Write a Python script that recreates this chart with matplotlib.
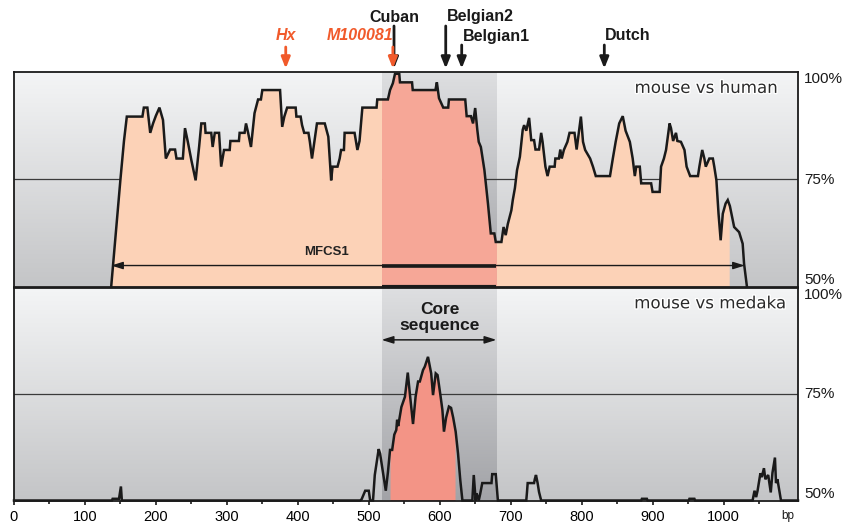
import numpy as np
import matplotlib
matplotlib.use("Agg")
import matplotlib.pyplot as plt
import matplotlib.transforms as mtransforms
import matplotlib.patheffects as pe

# ---- data ----
# mouse vs human conservation (bp, % identity)
human_bp = [137, 150, 155, 159, 181, 183, 188, 192, 196, 200, 205, 210, 214, 220, 227, 229,
            238, 241, 245, 250, 256, 261, 264, 269, 270, 278, 280, 283, 289, 292, 296, 304,
            305, 317, 318, 325, 327, 330, 334, 339, 344, 348, 350, 375, 378, 381, 385, 397,
            398, 404, 406, 409, 415, 417, 420, 427, 438, 443, 447, 449, 456, 459, 461, 465,
            466, 480, 484, 487, 491, 511, 512, 527, 530, 534, 537, 543, 544, 561, 562, 594,
            596, 599, 605, 612, 613, 636, 638, 644, 647, 650, 653, 655, 658, 663, 668, 672,
            677, 679, 687, 690, 693, 696, 701, 703, 706, 709, 713, 717, 719, 722, 726, 729,
            733, 735, 740, 743, 745, 749, 752, 755, 762, 763, 768, 770, 772, 775, 780, 783,
            790, 793, 799, 802, 805, 812, 816, 820, 840, 844, 848, 853, 858, 862, 868, 872,
            875, 877, 882, 884, 898, 900, 910, 912, 916, 919, 924, 926, 929, 933, 935, 940,
            945, 948, 953, 964, 966, 970, 973, 975, 980, 985, 987, 990, 993, 996, 999, 1003,
            1006, 1009, 1015, 1022, 1027, 1029, 1033]
human_pct = [50, 75, 84, 89.7, 89.7, 91.8, 91.8, 85.9, 88.1, 89.9, 91.8, 88.9, 79.9, 82.0, 82.0, 79.9,
             79.9, 87.0, 83.8, 79.5, 74.8, 82.8, 88.1, 88.1, 85.9, 85.9, 82.6, 85.9, 85.9, 78.0, 81.9, 81.9,
             84.0, 84.0, 85.9, 85.9, 88.1, 85.9, 82.6, 90.5, 93.7, 93.7, 95.9, 95.9, 87.3, 89.7, 91.8, 91.8,
             89.7, 89.7, 87.7, 85.9, 85.9, 83.8, 79.9, 88.1, 88.1, 85.0, 74.8, 78.0, 78.0, 79.9, 81.9, 81.9,
             85.9, 85.9, 81.9, 84.0, 91.8, 91.8, 93.7, 93.7, 95.9, 97.5, 99.7, 99.7, 97.7, 97.7, 95.9, 95.9,
             97.7, 94.0, 91.8, 91.8, 93.7, 93.7, 89.8, 89.8, 88.1, 91.7, 86.6, 83.8, 82.6, 77.2, 69.4, 62.4,
             62.4, 60.4, 60.4, 63.9, 62.0, 64.6, 67.8, 70.2, 73.0, 77.2, 80.3, 86.6, 87.7, 86.4, 89.4, 84.2,
             84.2, 82.0, 82.0, 85.9, 83.8, 78.0, 75.8, 78.0, 78.0, 79.9, 79.9, 82.0, 79.9, 81.9, 83.8, 85.9,
             85.9, 82.0, 89.7, 83.8, 81.9, 79.9, 78.0, 75.8, 75.8, 79.9, 83.8, 88.1, 89.8, 86.4, 83.8, 79.9,
             75.8, 78.0, 78.0, 74.1, 74.1, 72.1, 72.1, 78.0, 79.9, 81.9, 88.1, 87.0, 84.0, 85.9, 84.0, 83.8,
             81.9, 78.0, 75.8, 75.8, 78.0, 81.9, 79.9, 78.0, 79.9, 79.9, 78.0, 74.8, 67.0, 60.8, 67.0, 69.4,
             70.2, 68.8, 63.9, 62.7, 60.0, 55.3, 50]

# mouse vs medaka conservation
medaka_bp = [0, 138, 139, 148, 150.7, 152, 488, 490, 495, 500, 502, 506, 508.5, 514, 516, 524,
             527, 530, 533, 536, 538.8, 540, 541.5, 543, 546, 551, 555, 558, 562.4, 566, 569.5, 572,
             576.5, 579, 583.5, 588, 590.6, 594.4, 597, 601, 603.8, 606, 609, 613, 616, 619, 622.5, 625.8,
             629, 632, 646, 648, 650.7, 652, 655, 657, 660, 673, 674, 679, 682, 722, 723, 724,
             733, 734, 735.7, 738, 740, 743, 884, 885, 892, 893, 951, 952, 959, 960,
             1041, 1043.7, 1046, 1048, 1052, 1054, 1057, 1059, 1063, 1066.6, 1069, 1072.5, 1074, 1076, 1081, 1105]
medaka_pct = [50, 50, 50.4, 50.4, 53.3, 50, 50, 50.3, 52.3, 52.3, 50, 50, 56.0, 62.1, 61.0, 52.3,
              56.6, 61.9, 61.9, 65.5, 66.6, 69.0, 67.5, 69.0, 72.0, 74.4, 80.1, 75.0, 68.0, 74.4, 78.0, 78.0,
              80.7, 81.5, 83.8, 79.9, 74.8, 79.9, 79.5, 74.8, 71.3, 66.2, 69.5, 72.1, 71.8, 69.5, 66.2, 61.1,
              54.8, 50, 50, 56.0, 50, 51.7, 50, 51.5, 54.1, 54.1, 56.2, 56.2, 50, 50, 51.9, 54.1,
              54.1, 55.0, 56.0, 54.1, 52.0, 50, 50, 50.4, 50.4, 50, 50, 50.4, 50.4, 50,
              50, 52.3, 50.8, 52.3, 56.4, 55.5, 57.6, 55.0, 56.0, 51.9, 56.5, 60.1, 54.1, 55.0, 50, 50]

core_start, core_end = 518, 680
mfcs1_start, mfcs1_end = 137, 1030
human_fill_end = 1008
medaka_fill = (530, 621.6)

marker_names = ["Hx", "M100081", "Cuban", "Belgian2", "Belgian1", "Dutch"]
marker_bp = [383, 534, 535.6, 608.5, 631, 832]
marker_colors = ["#f15a2b", "#f15a2b", "#1a1a1a", "#1a1a1a", "#1a1a1a", "#1a1a1a"]

xticks = [0, 100, 200, 300, 400, 500, 600, 700, 800, 900, 1000]

# ---- style ----
bg_top = np.array([244, 245, 246]) / 255
bg_bot = np.array([196, 197, 199]) / 255
band_top = np.array([222, 223, 225]) / 255
band_bot = np.array([162, 163, 167]) / 255
peach = "#fcd2b7"
salmon = "#f6a797"
salmon_dark = "#f39486"
line_col = "#1a1a1a"
sans = "Liberation Sans"
XMAX = 1105

W, H = 856, 524
fig = plt.figure(figsize=(W / 100, H / 100), dpi=100, facecolor="white")
ax_top = fig.add_axes([14 / W, 1 - 286.5 / H, 784 / W, 214 / H])
ax_bot = fig.add_axes([14 / W, 1 - 500.5 / H, 784 / W, 212.5 / H])


def gradient(c_top, c_bot):
    t = np.linspace(0, 1, 256)[:, None, None]
    return (c_top[None, None, :] * (1 - t) + c_bot[None, None, :] * t)


for ax in (ax_top, ax_bot):
    ax.set_xlim(0, XMAX)
    ax.set_ylim(50, 100)
    ax.imshow(gradient(bg_top, bg_bot), extent=[0, XMAX, 50, 100], aspect="auto",
              origin="upper", zorder=0, interpolation="bilinear")
    ax.imshow(gradient(band_top, band_bot), extent=[core_start, core_end, 50, 100],
              aspect="auto", origin="upper", zorder=0.5, interpolation="bilinear")
    ax.axhline(75, color="#3a3a3a", lw=0.9, zorder=1)
    ax.set_yticks([])
    for s in ax.spines.values():
        s.set_linewidth(1.3)
        s.set_color(line_col)
        s.set_zorder(5)
    for val, va in ((100, "top"), (75, "center"), (50, "bottom")):
        ax.text(1.008, (val - 50) / 50, f"{val}%", transform=ax.transAxes, ha="left", va=va,
                fontsize=11, family=sans, color="#1a1a1a")

# top panel: mouse vs human
hb = np.array(human_bp, dtype=float)
hp = np.array(human_pct, dtype=float)
for x0, x1, col in ((mfcs1_start, core_start, peach), (core_start, core_end, salmon),
                    (core_end, human_fill_end, peach)):
    xs = np.linspace(x0, x1, 600)
    ax_top.fill_between(xs, 50, np.interp(xs, hb, hp), color=col, lw=0, zorder=2)
ax_top.plot(hb, hp, color=line_col, lw=1.8, zorder=3, clip_on=False, solid_joinstyle="miter")
ax_top.plot([core_start, core_end], [50, 50], color=line_col, lw=3, zorder=6, clip_on=False,
            solid_capstyle="butt")
ax_top.set_xticks([])

# MFCS1 span arrow
ax_top.annotate("", xy=(mfcs1_start, 54.9), xytext=(mfcs1_end, 54.9),
                arrowprops=dict(arrowstyle="<|-|>,head_length=0.7,head_width=0.22",
                                color=line_col, lw=1.0, shrinkA=0, shrinkB=0), zorder=4)
ax_top.plot([core_start, core_end], [54.9, 54.9], color=line_col, lw=2.6, zorder=4,
            solid_capstyle="butt")
ax_top.text(441, 58.0, "MFCS1", ha="center", va="center", fontsize=9.5, fontweight="bold",
            family=sans, color="#222222", zorder=4)
ax_top.text(1076, 96.4, "mouse vs human", ha="right", va="center", fontsize=12,
            family="DejaVu Sans", color="#2a2a2a", zorder=4,
            path_effects=[pe.withStroke(linewidth=2, foreground="white")])

# bottom panel: mouse vs medaka
mb = np.array(medaka_bp, dtype=float)
mp = np.array(medaka_pct, dtype=float)
xs = np.linspace(medaka_fill[0], medaka_fill[1], 400)
ax_bot.fill_between(xs, 50, np.interp(xs, mb, mp), color=salmon_dark, lw=0, zorder=2)
ax_bot.plot(mb, mp, color=line_col, lw=1.8, zorder=3, clip_on=False, solid_joinstyle="miter")
ax_bot.annotate("", xy=(core_start, 87.8), xytext=(core_end, 87.8),
                arrowprops=dict(arrowstyle="<|-|>,head_length=0.7,head_width=0.22",
                                color=line_col, lw=1.1, shrinkA=0, shrinkB=0), zorder=4)
ax_bot.text(600, 93.9, "Core", ha="center", va="baseline", fontsize=12.5, fontweight="bold",
            family=sans, color="#1a1a1a", zorder=4)
ax_bot.text(600, 90.1, "sequence", ha="center", va="baseline", fontsize=12.5, fontweight="bold",
            family=sans, color="#1a1a1a", zorder=4)
ax_bot.text(1088, 96.4, "mouse vs medaka", ha="right", va="center", fontsize=12,
            family="DejaVu Sans", color="#2a2a2a", zorder=4,
            path_effects=[pe.withStroke(linewidth=2, foreground="white")])

ax_bot.set_xticks(xticks)
ax_bot.set_xticks(np.arange(50, XMAX, 100), minor=True)
ax_bot.tick_params(axis="x", which="both", direction="out", length=3, width=1.2,
                   color=line_col, pad=4, labelsize=10.5)
ax_bot.tick_params(axis="x", which="minor", length=2.5)
for lbl in ax_bot.get_xticklabels():
    lbl.set_family(sans)
ax_bot.text(1090, -0.075, "bp", transform=ax_bot.get_xaxis_transform(), ha="center",
            va="center", fontsize=8.5, family=sans, color="#1a1a1a")

# mutation markers above the top panel
tr = mtransforms.blended_transform_factory(ax_top.transData, fig.transFigure)


def fy(py):
    return 1 - py / H


# (text anchor, text y px, arrow tail y px)
marker_layout = {
    "Hx": ("center", 36, 47),
    "M100081": ("right", 36, 47),
    "Cuban": ("center", 17, 26),
    "Belgian2": ("left", 17, 26),
    "Belgian1": ("left", 36, 45),
    "Dutch": ("left", 36, 45),
}
order = [2, 3, 4, 5, 0, 1]  # black arrows first so the orange heads sit on top
for i in order:
    name, x, col = marker_names[i], marker_bp[i], marker_colors[i]
    ha, ty, tail = marker_layout[name]
    style = "italic" if col != line_col else "normal"
    ax_top.annotate("", xy=(x, fy(68.5)), xytext=(x, fy(tail)), xycoords=tr, textcoords=tr,
                    arrowprops=dict(arrowstyle="-|>,head_length=0.55,head_width=0.22",
                                    color=col, lw=2.0, shrinkA=0, shrinkB=0,
                                    mutation_scale=12), annotation_clip=False)
    tx = x + (1.0 if ha == "left" else 0)
    fig.text(tx, fy(ty), name, transform=tr, ha=ha, va="center", fontsize=11.5,
             fontweight="bold", fontstyle=style, family=sans, color=col)

fig.savefig("out.png", dpi=100, facecolor="white")
